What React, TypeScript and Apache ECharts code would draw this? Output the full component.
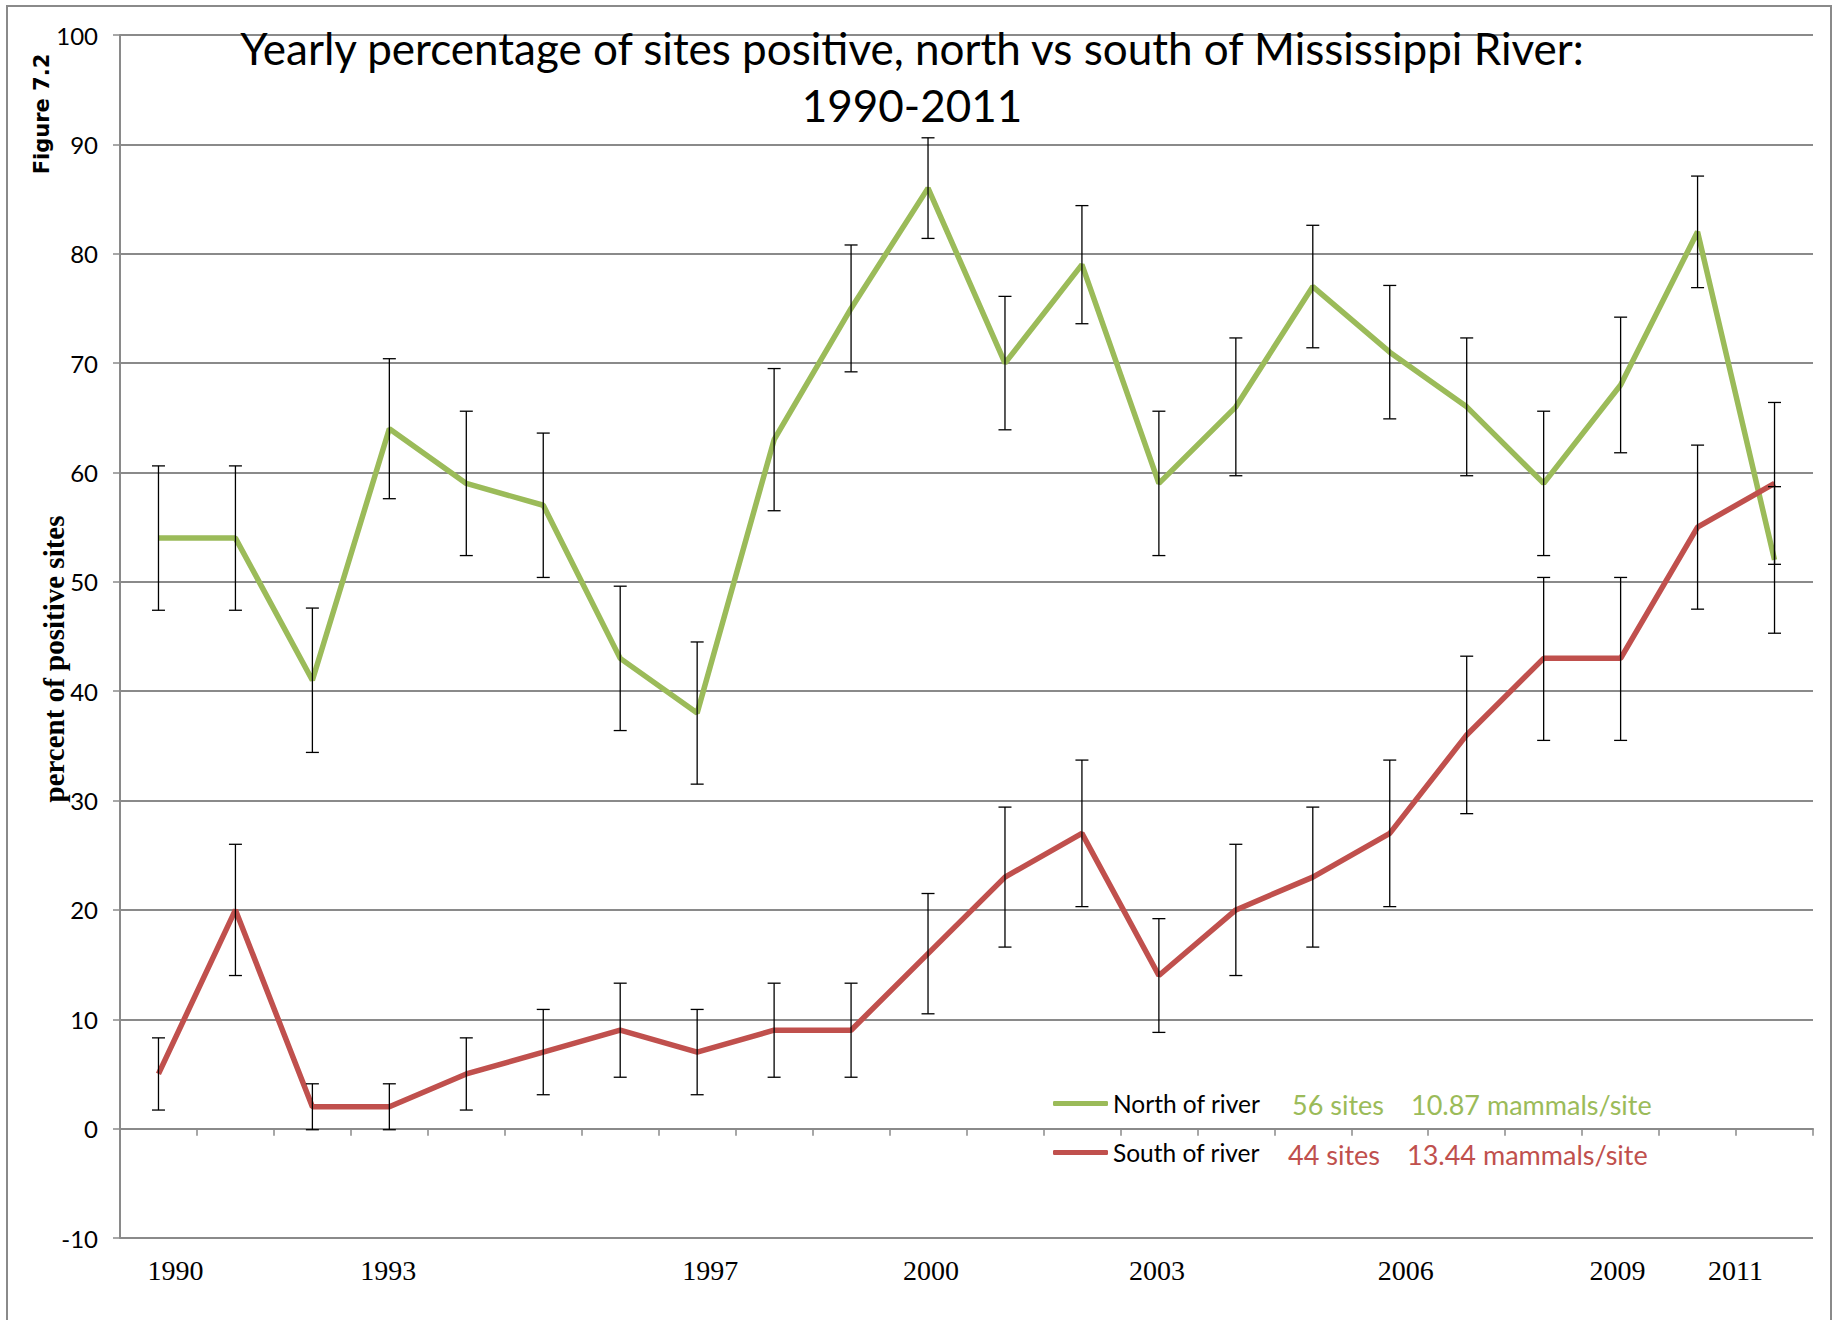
import React, { useEffect, useRef } from "react";
import * as echarts from "echarts";

const years = ["1990","1991","1992","1993","1994","1995","1996","1997","1998","1999","2000","2001","2002","2003","2004","2005","2006","2007","2008","2009","2010","2011"];
const shownYears = ["1990","1993","1997","2000","2003","2006","2009","2011"];

const northPct = [54,54,41,64,59,57,43,38,63,75,86,70,79,59,66,77,71,66,59,68,82,52];
const northLow = [47.4,47.4,34.4,57.6,52.4,50.4,36.4,31.5,56.5,69.2,81.4,63.9,73.6,52.4,59.7,71.4,64.9,59.7,52.4,61.8,76.9,45.3];
const northHigh = [60.6,60.6,47.6,70.4,65.6,63.6,49.6,44.5,69.5,80.8,90.6,76.1,84.4,65.6,72.3,82.6,77.1,72.3,65.6,74.2,87.1,58.7];

const southPct = [5,20,2,2,5,7,9,7,9,9,16,23,27,14,20,23,27,36,43,43,55,59];
const southLow = [1.7,14,-0.1,-0.1,1.7,3.1,4.7,3.1,4.7,4.7,10.5,16.6,20.3,8.8,14,16.6,20.3,28.8,35.5,35.5,47.5,51.6];
const southHigh = [8.3,26,4.1,4.1,8.3,10.9,13.3,10.9,13.3,13.3,21.5,29.4,33.7,19.2,26,29.4,33.7,43.2,50.4,50.4,62.5,66.4];

const seriesNames = ["North of river", "South of river"];
const northNote = ["56 sites", "10.87 mammals/site"];
const southNote = ["44 sites", "13.44 mammals/site"];

const titleText = "Yearly percentage of sites positive, north vs south of Mississippi River:\n1990-2011";
const yName = "percent of positive sites";
const figureLabel = "Figure 7.2";

// style constants
const GREEN = "#9BBB59";
const RED = "#C0504D";
const GRID = "#8a8a8a";
const labelShift: Record<string, number> = { "1990": 17, "1993": -1, "1997": 13, "2000": 3, "2003": -2, "2006": 16, "2009": -3, "2011": -39 };

function errorBarItem(params: any, api: any) {
  const x = api.value(0);
  const lo = api.value(1);
  const hi = api.value(2);
  const top = api.coord([x, hi]);
  const bot = api.coord([x, lo]);
  const hw = 6.5;
  const style = { stroke: "#000", lineWidth: 1.3 };
  return {
    type: "group",
    children: [
      { type: "line", shape: { x1: top[0], y1: top[1], x2: bot[0], y2: bot[1] }, style },
      { type: "line", shape: { x1: top[0] - hw, y1: top[1], x2: top[0] + hw, y2: top[1] }, style },
      { type: "line", shape: { x1: bot[0] - hw, y1: bot[1], x2: bot[0] + hw, y2: bot[1] }, style },
    ],
  };
}

export default function App() {
  const ref = useRef<HTMLDivElement>(null);
  useEffect(() => {
    if (!ref.current) return;
    const chart = echarts.init(ref.current, null, { renderer: "svg" });
    const rich: Record<string, any> = {};
    shownYears.forEach((y) => {
      const s = labelShift[y] || 0;
      rich["y" + y] = {
        fontFamily: "'Liberation Serif', 'Times New Roman', serif",
        fontSize: 28,
        color: "#000",
        padding: s >= 0 ? [0, 0, 0, 2 * s] : [0, -2 * s, 0, 0],
      };
    });
    const option: any = {
      animation: false,
      backgroundColor: "#fff",
      title: {
        text: titleText,
        left: 907,
        top: 14,
        textAlign: "center",
        textStyle: {
          fontFamily: "Lato, 'Open Sans', sans-serif",
          fontSize: 44,
          fontWeight: "normal",
          lineHeight: 57,
          color: "#000",
        },
      },
      grid: { left: 120, right: 21, top: 35, bottom: 82 },
      legend: {
        data: seriesNames,
        orient: "vertical",
        left: 1048,
        top: 1084,
        icon: "roundRect",
        itemWidth: 55,
        itemHeight: 5,
        itemGap: 20,
        selectedMode: false,
        textStyle: {
          fontFamily: "Lato, 'Open Sans', sans-serif",
          fontSize: 24.5,
          lineHeight: 29,
          color: "#000",
        },
      },
      xAxis: [
        {
          type: "category",
          data: years,
          boundaryGap: true,
          axisLine: { onZero: true, lineStyle: { color: GRID, width: 2 } },
          axisTick: { show: true, interval: 0, length: 7, lineStyle: { color: GRID, width: 1.5 } },
          axisLabel: { show: false },
          splitLine: { show: false },
        },
        {
          type: "category",
          data: years,
          position: "bottom",
          boundaryGap: true,
          axisLine: { show: false, onZero: false },
          axisTick: { show: false },
          axisLabel: {
            show: true,
            interval: 0,
            margin: 18,
            formatter: (v: string) => (shownYears.includes(v) ? `{y${v}|${v}}` : ""),
            rich,
          },
          splitLine: { show: false },
        },
      ],
      yAxis: {
        type: "value",
        min: -10,
        max: 100,
        interval: 10,
        axisLine: { show: true, lineStyle: { color: GRID, width: 2 } },
        axisTick: { show: true, length: 7, lineStyle: { color: GRID, width: 1.5 } },
        axisLabel: {
          margin: 22,
          fontFamily: "Lato, 'Open Sans', sans-serif",
          fontSize: 24,
          color: "#000",
        },
        splitLine: { show: true, lineStyle: { color: GRID, width: 2 } },
      },
      series: [
        {
          name: seriesNames[0],
          type: "line",
          data: northPct,
          symbol: "none",
          lineStyle: { color: GREEN, width: 5.5 },
          itemStyle: { color: GREEN },
          z: 2,
        },
        {
          name: seriesNames[1],
          type: "line",
          data: southPct,
          symbol: "none",
          lineStyle: { color: RED, width: 5.5 },
          itemStyle: { color: RED },
          z: 2,
        },
        {
          type: "custom",
          name: "northErr",
          data: years.map((_, i) => [i, northLow[i], northHigh[i]]),
          encode: { x: 0, y: [1, 2] },
          renderItem: errorBarItem,
          z: 3,
        },
        {
          type: "custom",
          name: "southErr",
          data: years.map((_, i) => [i, southLow[i], southHigh[i]]),
          encode: { x: 0, y: [1, 2] },
          renderItem: errorBarItem,
          z: 3,
        },
      ],
      graphic: [
        {
          type: "rect",
          shape: { x: 7, y: 6, width: 1824, height: 1330 },
          style: { fill: "none", stroke: GRID, lineWidth: 2 },
          silent: true,
          z: -1,
        },
        {
          type: "text",
          x: 42,
          y: 114,
          rotation: Math.PI / 2,
          style: {
            text: figureLabel,
            fontFamily: "'DejaVu Sans', Verdana, sans-serif",
            fontWeight: "bold",
            fontSize: 21,
            fill: "#000",
            align: "center",
            verticalAlign: "middle",
          },
        },
        {
          type: "text",
          x: 54,
          y: 659,
          rotation: Math.PI / 2,
          style: {
            text: yName,
            fontFamily: "'Liberation Serif', 'Times New Roman', serif",
            fontWeight: "bold",
            fontSize: 29,
            fill: "#000",
            align: "center",
            verticalAlign: "middle",
          },
        },
        {
          type: "text",
          x: 1292,
          y: 1104,
          style: { text: northNote[0], fontFamily: "Lato, sans-serif", fontSize: 27, fill: GREEN, align: "left", verticalAlign: "middle" },
        },
        {
          type: "text",
          x: 1411,
          y: 1104,
          style: { text: northNote[1], fontFamily: "Lato, sans-serif", fontSize: 27, fill: GREEN, align: "left", verticalAlign: "middle" },
        },
        {
          type: "text",
          x: 1288,
          y: 1154,
          style: { text: southNote[0], fontFamily: "Lato, sans-serif", fontSize: 27, fill: RED, align: "left", verticalAlign: "middle" },
        },
        {
          type: "text",
          x: 1407,
          y: 1154,
          style: { text: southNote[1], fontFamily: "Lato, sans-serif", fontSize: 27, fill: RED, align: "left", verticalAlign: "middle" },
        },
      ],
    };
    chart.setOption(option);
    return () => chart.dispose();
  }, []);
  return (
    <div
      ref={ref}
      style={{ position: "absolute", left: 0, top: 0, width: 1834, height: 1320 }}
    />
  );
}
